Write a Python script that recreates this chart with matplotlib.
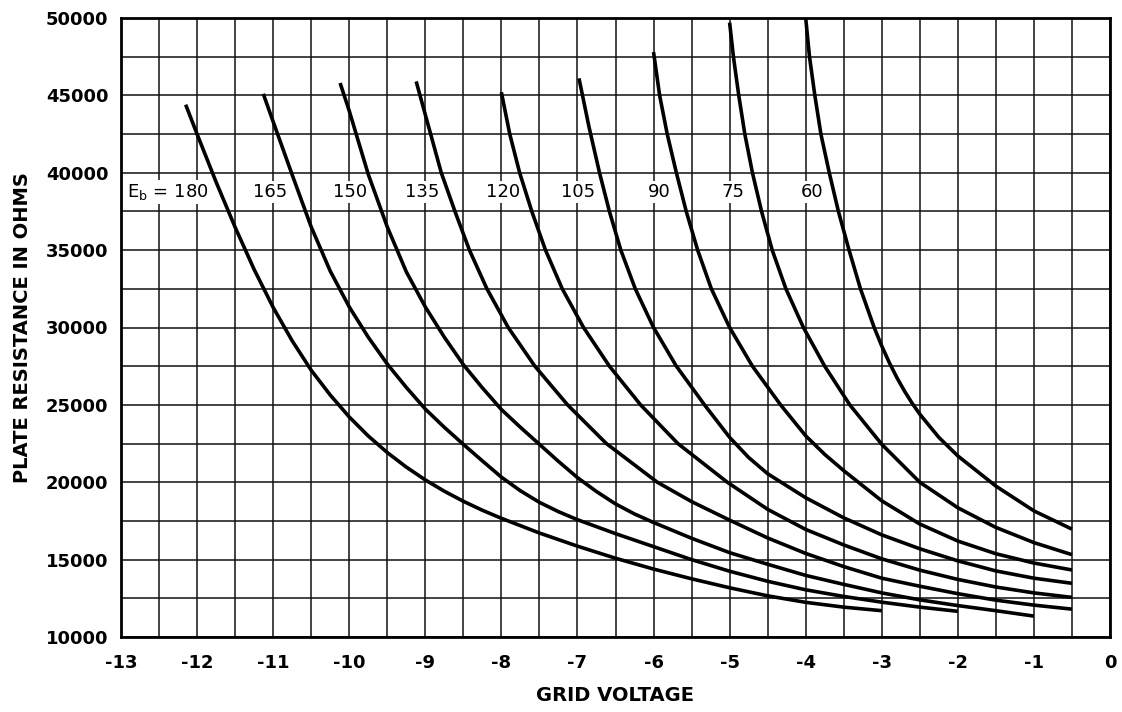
import numpy as np
import matplotlib
matplotlib.use("Agg")
import matplotlib.pyplot as plt

# ---------------- data ----------------
plate_voltages = [180, 165, 150, 135, 120, 105, 90, 75, 60]

grid_180 = [-12.15, -12.0, -11.75, -11.5, -11.25, -11.0, -10.75, -10.5, -10.25, -10.0, -9.75,
            -9.5, -9.25, -9.0, -8.75, -8.5, -8.25, -8.0, -7.5, -7.0, -6.5, -6.0, -5.5, -5.0,
            -4.5, -4.0, -3.5, -3.0]
rp_180 = [44400, 42500, 39400, 36480, 33750, 31300, 29140, 27240, 25640, 24220, 22990,
          21920, 20980, 20150, 19420, 18770, 18190, 17670, 16720, 15870, 15090, 14390, 13760, 13180,
          12660, 12240, 11930, 11700]

grid_165 = [-11.13, -11.0, -10.75, -10.5, -10.25, -10.0, -9.75, -9.5, -9.25, -9.0, -8.75,
            -8.5, -8.25, -8.0, -7.75, -7.5, -7.25, -7.0, -6.5, -6.0, -5.5, -5.0, -4.5, -4.0,
            -3.5, -3.0, -2.5, -2.0]
rp_165 = [45100, 43300, 39870, 36500, 33650, 31330, 29375, 27640, 26130, 24730, 23550,
          22450, 21380, 20330, 19450, 18700, 18100, 17580, 16680, 15840, 15000, 14250, 13600, 13050,
          12620, 12250, 11930, 11660]

grid_150 = [-10.12, -10.0, -9.75, -9.5, -9.25, -9.0, -8.75, -8.5, -8.25, -8.0, -7.75, -7.5,
            -7.25, -7.0, -6.75, -6.5, -6.25, -6.0, -5.5, -5.0, -4.5, -4.0, -3.5, -3.0, -2.5,
            -2.0, -1.5, -1.0]
rp_150 = [45800, 44000, 39900, 36500, 33600, 31330, 29375, 27600, 26100, 24700, 23550, 22450,
          21350, 20300, 19400, 18600, 17950, 17400, 16380, 15450, 14700, 13980, 13400, 12850, 12400,
          12030, 11700, 11350]

grid_135 = [-9.12, -8.79, -8.61, -8.42, -8.19, -7.91, -7.56, -7.13, -6.62, -5.95, -5.5, -5.0,
            -4.5, -4.0, -3.5, -3.0, -2.5, -2.0, -1.5, -1.0, -0.5]
rp_135 = [45900, 40000, 37500, 35000, 32500, 30000, 27500, 25000, 22500, 20000, 18750, 17550,
          16400, 15400, 14550, 13800, 13280, 12800, 12380, 12060, 11800]

grid_120 = [-8.0, -7.89, -7.76, -7.6, -7.42, -7.2, -6.92, -6.58, -6.17, -5.68, -5.03, -4.5,
            -4.0, -3.5, -3.0, -2.5, -2.0, -1.5, -1.0, -0.5]
rp_120 = [45200, 42500, 40000, 37500, 35000, 32500, 30000, 27500, 25000, 22500, 20000, 18250,
          16950, 15950, 15050, 14320, 13720, 13230, 12850, 12560]

grid_105 = [-6.98, -6.85, -6.71, -6.58, -6.43, -6.24, -6.0, -5.7, -5.33, -5.0, -4.75, -4.5,
            -4.0, -3.5, -3.0, -2.5, -2.0, -1.5, -1.0, -0.5]
rp_105 = [46100, 43000, 40000, 37500, 35000, 32500, 30000, 27500, 25000, 22900, 21600, 20550,
          19000, 17700, 16600, 15700, 14920, 14270, 13800, 13470]

grid_90 = [-6.0, -5.92, -5.82, -5.7, -5.57, -5.42, -5.24, -5.0, -4.7, -4.33, -4.0, -3.75,
           -3.5, -3.0, -2.5, -2.0, -1.5, -1.0, -0.5]
rp_90 = [47800, 45000, 42500, 40000, 37500, 35000, 32500, 30000, 27500, 25000, 23000, 21800,
         20750, 18800, 17300, 16200, 15380, 14780, 14330]

grid_75 = [-5.0, -4.95, -4.88, -4.8, -4.7, -4.58, -4.44, -4.26, -4.03, -3.75, -3.42, -3.0,
           -2.5, -2.0, -1.5, -1.0, -0.5]
rp_75 = [49700, 47500, 45000, 42500, 40000, 37500, 35000, 32500, 30000, 27500, 25000, 22450,
         20000, 18350, 17080, 16100, 15320]

grid_60 = [-4.0, -3.95, -3.88, -3.8, -3.69, -3.57, -3.43, -3.28, -3.1, -3.0, -2.9, -2.8,
           -2.7, -2.6, -2.5, -2.25, -2.0, -1.5, -1.0, -0.5]
rp_60 = [50000, 47500, 45000, 42500, 40000, 37500, 35000, 32500, 30000, 28800, 27720, 26750,
         25880, 25100, 24400, 22900, 21700, 19750, 18150, 16970]

curve_grids = [grid_180, grid_165, grid_150, grid_135, grid_120, grid_105, grid_90, grid_75, grid_60]
curve_rps = [rp_180, rp_165, rp_150, rp_135, rp_120, rp_105, rp_90, rp_75, rp_60]

# curve labels
label_x = [-12.38, -11.04, -9.99, -9.04, -7.98, -6.99, -5.93, -4.96, -3.92]
label_text = ["E$_\\mathregular{b}$ = 180", "165", "150", "135", "120", "105", "90", "75", "60"]
label_rp = 38750

x_ticks = list(range(-13, 1))
y_ticks = list(range(10000, 50001, 5000))

# ---------------- plotting ----------------
plt.rcParams['font.family'] = ['DejaVu Sans']
plt.rcParams['axes.unicode_minus'] = False

fig = plt.figure(figsize=(11.22, 7.12), dpi=100)
ax = fig.add_axes([121 / 1122, 1 - 637 / 712, (1110 - 121) / 1122, (637 - 18) / 712])

ax.set_xlim(-13, 0)
ax.set_ylim(10000, 50000)
ax.set_xticks(x_ticks)
ax.set_xticklabels([str(t) for t in x_ticks])
ax.set_yticks(y_ticks)
ax.set_yticklabels([str(t) for t in y_ticks])
ax.set_xticks(np.arange(-13, 0.01, 0.5), minor=True)
ax.set_yticks(np.arange(10000, 50001, 2500), minor=True)
ax.grid(which='both', color='#111111', linewidth=1.1, zorder=1)
ax.set_axisbelow(True)
ax.tick_params(which='both', length=0)
ax.tick_params(axis='x', pad=12, labelsize=13)
ax.tick_params(axis='y', pad=9, labelsize=13)
for lab in ax.get_xticklabels() + ax.get_yticklabels():
    lab.set_fontweight('bold')
for sp in ax.spines.values():
    sp.set_linewidth(2.0)
    sp.set_color('black')

for gx, rp in zip(curve_grids, curve_rps):
    ax.plot(gx, rp, color='black', linewidth=2.6, solid_capstyle='butt',
            solid_joinstyle='round', zorder=4)

for lx, txt in zip(label_x, label_text):
    ax.text(lx, label_rp, txt, ha='center', va='center', fontsize=13, color='black', zorder=3,
            bbox=dict(facecolor='white', edgecolor='none', pad=1.5))

ax.set_xlabel('GRID VOLTAGE', fontsize=14, fontweight='bold', labelpad=10)
ax.set_ylabel('PLATE RESISTANCE IN OHMS', fontsize=14, fontweight='bold', labelpad=10)

fig.savefig('out.png', dpi=100, facecolor='white')
